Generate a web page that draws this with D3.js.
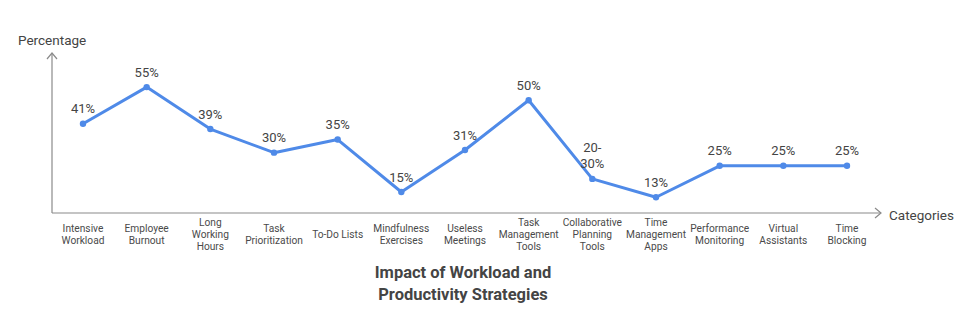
<!DOCTYPE html>
<html>
<head>
<meta charset="utf-8">
<script src="https://cdn.jsdelivr.net/npm/d3@7"></script>
<style>
  html, body { margin: 0; padding: 0; background: #fff; }
  svg { display: block; font-family: Roboto, "Open Sans", sans-serif; }
</style>
</head>
<body>
<svg id="chart" width="975" height="334"></svg>
<script>
// Category labels (line breaks as drawn under the axis)
const categories = [
  "Intensive Workload", "Employee Burnout", "Long Working Hours", "Task Prioritization",
  "To-Do Lists", "Mindfulness Exercises", "Useless Meetings", "Task Management Tools",
  "Collaborative Planning Tools", "Time Management Apps", "Performance Monitoring",
  "Virtual Assistants", "Time Blocking"
];
const categoryLines = [
  ["Intensive", "Workload"], ["Employee", "Burnout"], ["Long", "Working", "Hours"],
  ["Task", "Prioritization"], ["To-Do Lists"], ["Mindfulness", "Exercises"],
  ["Useless", "Meetings"], ["Task", "Management", "Tools"],
  ["Collaborative", "Planning", "Tools"], ["Time", "Management", "Apps"],
  ["Performance", "Monitoring"], ["Virtual", "Assistants"], ["Time", "Blocking"]
];
// Percentages plotted for each category
const values = [41, 55, 39, 30, 35, 15, 31, 50, 20, 13, 25, 25, 25];
// Value labels shown above each point
const valueLabels = [
  ["41%"], ["55%"], ["39%"], ["30%"], ["35%"], ["15%"], ["31%"], ["50%"],
  ["20-", "30%"], ["13%"], ["25%"], ["25%"], ["25%"]
];
const titleLines = ["Impact of Workload and", "Productivity Strategies"];

const svg = d3.select("#chart");
const axisColor = "#8a8a8a";
const textColor = "#444";
const lineColor = "#4f8ae8";

const x = d3.scalePoint().domain(categories).range([83, 847]);
const y = d3.scaleLinear().domain([7, 68]).range([213, 53]);

const x0 = 52, yBase = y(7), yTop = y(68), xEnd = 881;

// Axes with open arrow heads
svg.append("line").attr("x1", x0).attr("y1", yBase).attr("x2", x0).attr("y2", yTop)
  .attr("stroke", axisColor).attr("stroke-width", 1.2);
svg.append("path").attr("d", `M${x0 - 5},${yTop + 6}L${x0},${yTop}L${x0 + 5},${yTop + 6}`)
  .attr("fill", "none").attr("stroke", axisColor).attr("stroke-width", 1.2);
svg.append("line").attr("x1", x0).attr("y1", yBase).attr("x2", xEnd).attr("y2", yBase)
  .attr("stroke", axisColor).attr("stroke-width", 1.2);
svg.append("path").attr("d", `M${xEnd - 6},${yBase - 5}L${xEnd},${yBase}L${xEnd - 6},${yBase + 5}`)
  .attr("fill", "none").attr("stroke", axisColor).attr("stroke-width", 1.2);

svg.append("text").attr("x", 18).attr("y", 45).attr("fill", textColor)
  .attr("font-size", 13.5).text("Percentage");
svg.append("text").attr("x", 889).attr("y", 220).attr("fill", textColor)
  .attr("font-size", 13.5).text("Categories");

// Category labels, vertically centred under each point
const lh = 12;
categories.forEach((c, i) => {
  const lines = categoryLines[i];
  const t = svg.append("text").attr("text-anchor", "middle").attr("fill", "#4a4a4a")
    .attr("font-size", 10.2);
  const startY = 238 - (lines.length - 1) * lh / 2;
  lines.forEach((l, j) => {
    t.append("tspan").attr("x", x(c)).attr("y", startY + j * lh).text(l);
  });
});

// Line and points
const line = d3.line().x((d, i) => x(categories[i])).y(d => y(d));
svg.append("path").datum(values).attr("d", line).attr("fill", "none")
  .attr("stroke", lineColor).attr("stroke-width", 3).attr("stroke-linejoin", "round");
svg.selectAll("circle.pt").data(values).join("circle").attr("class", "pt")
  .attr("cx", (d, i) => x(categories[i])).attr("cy", d => y(d)).attr("r", 3.2)
  .attr("fill", lineColor);

// Value labels above points
values.forEach((v, i) => {
  const lines = valueLabels[i];
  const t = svg.append("text").attr("text-anchor", "middle").attr("fill", textColor)
    .attr("font-size", 13);
  const lastY = y(v) - 10.5;
  lines.forEach((l, j) => {
    t.append("tspan").attr("x", x(categories[i]))
      .attr("y", lastY - (lines.length - 1 - j) * 16).text(l);
  });
});

// Title
const title = svg.append("text").attr("text-anchor", "middle").attr("fill", textColor)
  .attr("font-size", 16.5).attr("font-weight", "bold");
titleLines.forEach((l, j) => {
  title.append("tspan").attr("x", 463).attr("y", 278 + j * 22).text(l);
});
</script>
</body>
</html>
